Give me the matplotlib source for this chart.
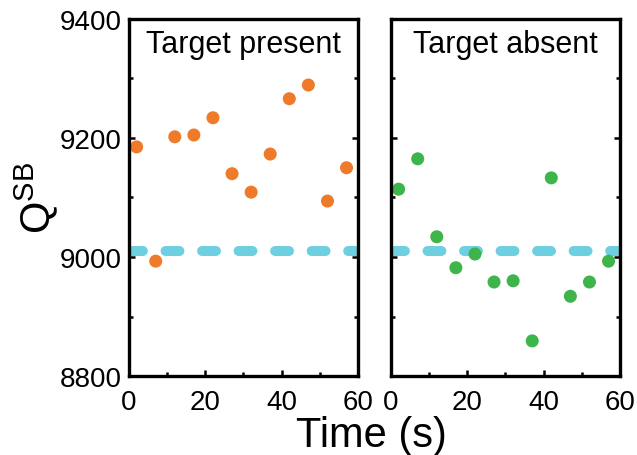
import matplotlib
matplotlib.use("Agg")
import matplotlib.pyplot as plt
from matplotlib.ticker import MultipleLocator

plt.rcParams['font.family'] = ['Liberation Sans', 'DejaVu Sans']
plt.rcParams['mathtext.fontset'] = 'custom'
plt.rcParams['mathtext.rm'] = 'Liberation Sans'
plt.rcParams['mathtext.it'] = 'Liberation Sans:italic'
plt.rcParams['lines.scale_dashes'] = False

time = [2, 7, 12, 17, 22, 27, 32, 37, 42, 47, 52, 57]
present = [9185, 8993, 9202, 9205, 9234, 9140, 9109, 9173, 9266, 9289, 9094, 9150]
absent = [9114, 9165, 9034, 8982, 9005, 8958, 8960, 8859, 9133, 8934, 8958, 8993]
threshold = 9010
panel_titles = ["Target present", "Target absent"]
xlim = (0, 60)
ylim = (8800, 9400)

fig = plt.figure(figsize=(6.37, 4.56), dpi=100)
ax1 = fig.add_axes([0.2025, 0.1732, 0.3595, 0.783])
ax2 = fig.add_axes([0.6138, 0.1732, 0.3595, 0.783])

colors = ['#EE7A2A', '#3DB54A']
for ax, data, title, c in zip([ax1, ax2], [present, absent], panel_titles, colors):
    ax.plot([xlim[0], xlim[1]], [threshold, threshold], color='#6DCFDF', lw=7.2,
            dashes=(10, 16.3), solid_capstyle='round', dash_capstyle='round', zorder=1)
    ax.scatter(time, data, s=88, color=c, edgecolors='none', zorder=2)
    ax.set_xlim(*xlim)
    ax.set_ylim(*ylim)
    ax.xaxis.set_major_locator(MultipleLocator(20))
    ax.xaxis.set_minor_locator(MultipleLocator(10))
    ax.yaxis.set_major_locator(MultipleLocator(200))
    ax.yaxis.set_minor_locator(MultipleLocator(100))
    ax.tick_params(axis='both', which='both', direction='in', width=1.8,
                   labelsize=20, top=False, right=True)
    ax.tick_params(axis='both', which='major', length=4)
    ax.tick_params(axis='both', which='minor', length=3)
    ax.tick_params(axis='x', pad=9)
    ax.tick_params(axis='y', pad=5)
    for s in ax.spines.values():
        s.set_linewidth(2.4)
    ax.text(0.5, 0.93, title, transform=ax.transAxes, ha='center', va='center',
            fontsize=22)

ax2.tick_params(axis='y', which='both', labelleft=False)
fig.text(0.057, 0.565, r'Q$^{\mathrm{SB}}$', rotation=90, ha='center', va='center',
         fontsize=30)
fig.text(0.583, 0.044, 'Time (s)', ha='center', va='center', fontsize=30)

fig.savefig('out.png', dpi=100)
